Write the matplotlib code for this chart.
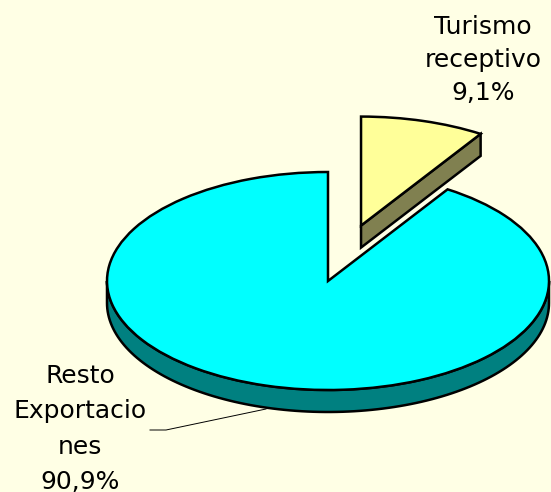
import numpy as np
import matplotlib
matplotlib.use("Agg")
import matplotlib.pyplot as plt

categories = ["Turismo\nreceptivo", "Resto\nExportacio\nnes"]
values = [9.1, 90.9]
value_labels = ["9,1%", "90,9%"]
top_colors = ["#FFFF99", "#00FFFF"]
side_colors = ["#808050", "#008080"]

#pie centre and radii in pixels, data units are pie radii
W, H = 551, 492
cx, cy, rx, ry = 328, 281, 221, 109
depth = 22 / ry
explode_dist = 0.53

def px(x, y):
    return (x - cx) / rx, (cy - y) / ry

fig = plt.figure(figsize=(W / 100, H / 100), dpi=100, facecolor="#FFFFE5")
ax = fig.add_axes([0, 0, 1, 1])
ax.axis("off")

wedges, _ = ax.pie(values, explode=[explode_dist, 0], startangle=90, counterclock=False,
                   colors=top_colors, wedgeprops={"edgecolor": "black", "linewidth": 1.8, "zorder": 3})
ax.set_aspect("auto")
ax.set_xlim(-cx / rx, (W - cx) / rx)
ax.set_ylim((cy - H) / ry, cy / ry)

#small slice side wall, the straight cut edge facing the main pie
sw = wedges[0]
ang = np.deg2rad(sw.theta1)
ox, oy = sw.center
ex, ey = ox + np.cos(ang), oy + np.sin(ang)
ax.fill([ox, ex, ex, ox], [oy, ey, ey - depth, oy - depth], facecolor=side_colors[0],
        edgecolor="black", linewidth=1.8, zorder=2)

#main pie rim, lower half of the ellipse
t = np.deg2rad(np.linspace(180, 360, 120))
rim_x = np.cos(t)
rim_y = np.sin(t)
ax.fill(np.r_[rim_x, rim_x[::-1]], np.r_[rim_y, rim_y[::-1] - depth], facecolor=side_colors[1],
        edgecolor="black", linewidth=1.8, zorder=2)

#leader line for the big slice
lx, ly = zip(px(150, 430), px(166, 430), px(266, 409))
ax.plot(lx, ly, color="black", linewidth=0.7, zorder=4)

text_style = dict(family="DejaVu Sans", fontsize=18, ha="center", va="center", color="black")
tx, ty = px(483, 60)
ax.text(tx, ty, categories[0] + "\n" + value_labels[0], linespacing=1.46, **text_style)
tx, ty = px(80, 429)
ax.text(tx, ty, categories[1] + "\n" + value_labels[1], linespacing=1.58, **text_style)

fig.savefig("out.png", dpi=100, facecolor=fig.get_facecolor())
